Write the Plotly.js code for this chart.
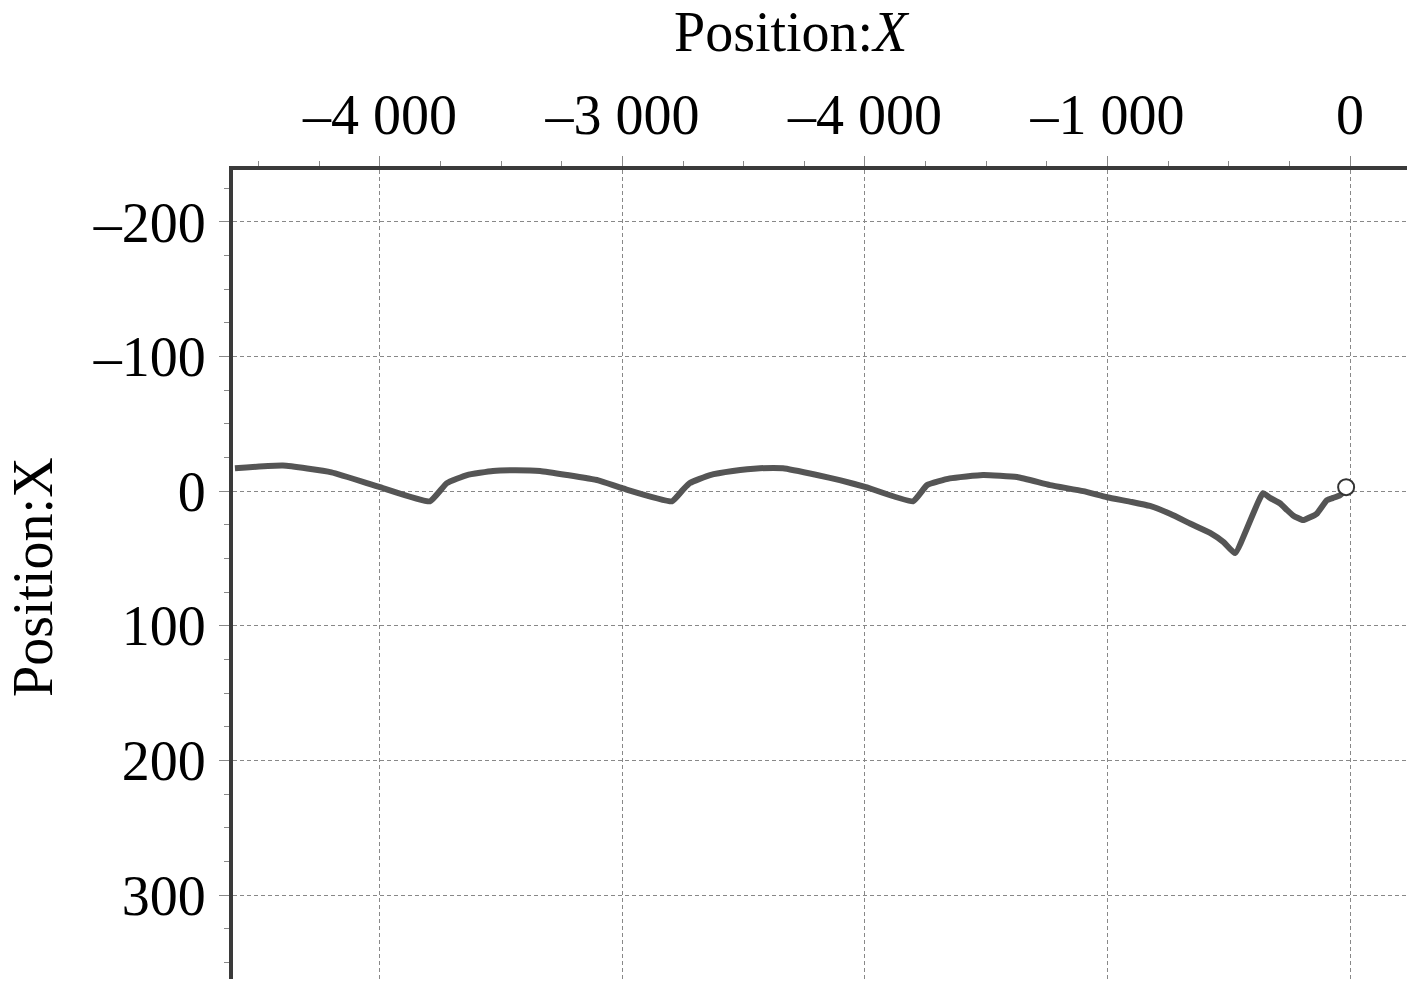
<!DOCTYPE html>
<html>
<head>
<meta charset="utf-8">
<script src="https://cdn.plot.ly/plotly-3.0.1.min.js"></script>
<style>html,body{margin:0;padding:0;background:#fff;}#chart{width:1417px;height:987px;}</style>
</head>
<body>
<div id="chart"></div>
<script>
// Trajectory (x, y)
const xPos = [-4598, -4400, -4200, -4000, -3794, -3724, -3641, -3534, -3440, -3340, -3229, -3100, -2998, -2796, -2751, -2722, -2639, -2545, -2433, -2338, -2198, -2100, -1996, -1802, -1744, -1650, -1513, -1373, -1237, -1100, -1002, -900, -825, -740, -660, -577, -520, -474, -359, -330, -289, -260, -235, -194, -160, -136, -95, -70, -41, -12];
const yPos = [-17, -19, -14, -3, 7.5, -6, -12, -15, -15.5, -15, -12, -8, -2, 7.5, -1, -6, -12, -15, -17, -17, -12, -8, -3, 7.5, -4.5, -9.5, -12, -10.5, -4.5, 0, 4.5, 8, 11, 17, 24, 31, 38, 46, 1.5, 5, 9, 14, 18, 21.5, 19, 16.5, 6.7, 5, 3, -2];
const startX = [-16];
const startY = [-3];

const xTickVals = [-4000, -3000, -2000, -1000, 0];
const xTickText = ['–4 000', '–3 000', '–4 000', '–1 000', '0'];
const yTickVals = [-200, -100, 0, 100, 200, 300];
const yTickText = ['–200', '–100', '0', '100', '200', '300'];

const font = {family: 'Liberation Serif, Times New Roman, serif', size: 56, color: '#000'};

const traces = [
  {x: xPos, y: yPos, type: 'scatter', mode: 'lines', line: {color: '#555555', width: 6, shape: 'spline', smoothing: 0.4}, hoverinfo: 'skip'},
  {x: startX, y: startY, type: 'scatter', mode: 'markers',
   marker: {symbol: 'circle', size: 16, color: '#ffffff', line: {color: '#333', width: 2}}, hoverinfo: 'skip'}
];

const layout = {
  width: 1417, height: 987,
  margin: {l: 233, r: 10, t: 170, b: 8},
  paper_bgcolor: '#fff', plot_bgcolor: '#fff',
  showlegend: false,
  font: font,
  xaxis: {
    side: 'top', range: [-4606, 235],
    tickvals: xTickVals, ticktext: xTickText,
    showline: true, linecolor: '#3a3a3a', linewidth: 4,
    ticks: 'outside', ticklen: 10, tickcolor: '#888', tickwidth: 1,
    ticklabelstandoff: 0,
    showgrid: true, gridcolor: '#888', gridwidth: 1, griddash: '4px,3px',
    zeroline: false,
    minor: {dtick: 250, tick0: 0, ticks: 'outside', ticklen: 5, tickcolor: '#888', showgrid: false},
    tickfont: font
  },
  yaxis: {
    range: [362.4, -238.6],
    tickvals: yTickVals, ticktext: yTickText,
    showline: true, linecolor: '#3a3a3a', linewidth: 4,
    ticks: 'outside', ticklen: 10, tickcolor: '#888', tickwidth: 1,
    ticklabelstandoff: 2,
    showgrid: true, gridcolor: '#888', gridwidth: 1, griddash: '4px,3px',
    zeroline: false,
    minor: {dtick: 25, tick0: 0, ticks: 'outside', ticklen: 5, tickcolor: '#888', showgrid: false},
    tickfont: font
  },
  annotations: [
    {text: 'Position:<i>X</i>', xref: 'paper', yref: 'paper', x: (792 - 233) / 1174, y: 1, yshift: 138,
     showarrow: false, xanchor: 'center', yanchor: 'middle', font: font},
    {text: 'Position:X', xref: 'paper', yref: 'paper', x: 0, xshift: -200, y: (987 - 8 - 577) / 809, showarrow: false,
     textangle: -90, xanchor: 'center', yanchor: 'middle', font: font}
  ]
};

Plotly.newPlot('chart', traces, layout, {displayModeBar: false, staticPlot: true});
</script>
</body>
</html>
